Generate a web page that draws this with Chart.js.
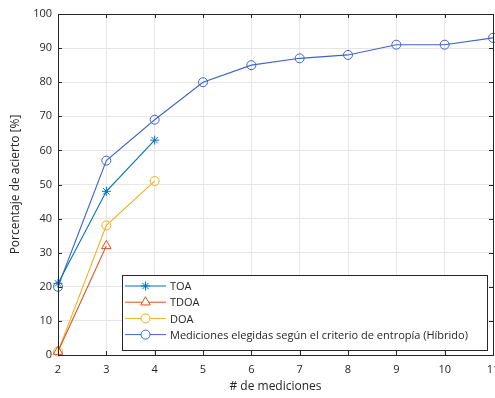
<!DOCTYPE html>
<html>
<head>
<meta charset="utf-8">
<script src="https://cdn.jsdelivr.net/npm/chart.js@4"></script>
<style>
  html, body { margin: 0; padding: 0; background: #fff; }
  #wrap { width: 495px; height: 398px; }
</style>
</head>
<body>
<div id="wrap"><canvas id="chart" width="495" height="398"></canvas></div>
<script>
// number of measurements on the x axis
const mediciones = [2, 3, 4, 5, 6, 7, 8, 9, 10, 11];
const toa = [21, 48, 63];
const tdoa = [1, 32];
const doa = [1, 38, 51];
const hibrido = [20, 57, 69, 80, 85, 87, 88, 91, 91, 93];
const yTicks = [0, 10, 20, 30, 40, 50, 60, 70, 80, 90, 100];

const textColor = '#262626';
const fontFamily = '"Open Sans", "Noto Sans", sans-serif';

function toPoints(values) {
    return values.map((v, i) => ({ x: mediciones[i], y: v }));
}

const series = [
    { label: 'TOA', data: toa, color: '#0072BD', style: 'star', radius: 4.5 },
    { label: 'TDOA', data: tdoa, color: '#D95319', style: 'triangle', radius: 5.5 },
    { label: 'DOA', data: doa, color: '#EDB120', style: 'circle', radius: 4.5 },
    { label: 'Mediciones elegidas según el criterio de entropía (Híbrido)', data: hibrido, color: '#3D66C4', style: 'circle', radius: 4.5 }
];

// box around the axes with inward ticks, plus the legend inside the plot
const framePlugin = {
    id: 'frame',
    afterDraw(chart) {
        const { ctx, chartArea: a, scales } = chart;
        ctx.save();
        ctx.strokeStyle = '#262626';
        ctx.lineWidth = 1;
        ctx.strokeRect(Math.round(a.left) + 0.5, Math.round(a.top) + 0.5,
            Math.round(a.right - a.left), Math.round(a.bottom - a.top));
        ctx.beginPath();
        mediciones.forEach(v => {
            const x = Math.round(scales.x.getPixelForValue(v)) + 0.5;
            ctx.moveTo(x, a.bottom); ctx.lineTo(x, a.bottom - 4);
            ctx.moveTo(x, a.top); ctx.lineTo(x, a.top + 4);
        });
        yTicks.forEach(v => {
            const y = Math.round(scales.y.getPixelForValue(v)) + 0.5;
            ctx.moveTo(a.left, y); ctx.lineTo(a.left + 4, y);
            ctx.moveTo(a.right, y); ctx.lineTo(a.right - 4, y);
        });
        ctx.stroke();

        // legend
        const box = { x: 122.5, y: 275.5, w: 365, h: 75 };
        ctx.fillStyle = '#fff';
        ctx.fillRect(box.x, box.y, box.w, box.h);
        ctx.strokeStyle = '#262626';
        ctx.strokeRect(box.x, box.y, box.w, box.h);
        ctx.font = '11px ' + fontFamily;
        ctx.textBaseline = 'middle';
        series.forEach((s, i) => {
            const y = 286 + i * 16.2;
            ctx.strokeStyle = s.color;
            ctx.lineWidth = 1;
            ctx.beginPath();
            ctx.moveTo(125, y); ctx.lineTo(166, y);
            ctx.stroke();
            ctx.fillStyle = '#fff';
            Chart.helpers.drawPoint(ctx, {
                pointStyle: s.style, radius: s.radius, borderWidth: 1, rotation: 0
            }, 145.5, y);
            ctx.fillStyle = textColor;
            ctx.fillText(s.label, 170, y + 1);
        });
        ctx.restore();
    }
};

new Chart(document.getElementById('chart'), {
    type: 'line',
    data: {
        datasets: series.map(s => ({
            label: s.label,
            data: toPoints(s.data),
            borderColor: s.color,
            backgroundColor: 'transparent',
            borderWidth: 1.1,
            pointStyle: s.style,
            pointRadius: s.radius,
            pointBorderWidth: 1,
            pointBorderColor: s.color,
            pointBackgroundColor: 'transparent',
            tension: 0,
            clip: false
        }))
    },
    options: {
        responsive: false,
        animation: false,
        layout: { autoPadding: false, padding: { top: 14, right: 2, left: 0, bottom: 0 } },
        plugins: { legend: { display: false }, tooltip: { enabled: false } },
        scales: {
            x: {
                type: 'linear',
                min: 2,
                max: 11,
                afterFit: s => { s.height = 43; s.paddingLeft = 0; s.paddingRight = 0; },
                afterBuildTicks: s => { s.ticks = mediciones.map(v => ({ value: v })); },
                grid: { color: '#e6e6e6', drawTicks: false },
                border: { display: false },
                ticks: { color: textColor, font: { family: fontFamily, size: 11 }, padding: 8 },
                title: {
                    display: true, text: '# de mediciones', color: textColor,
                    font: { family: fontFamily, size: 12 }, padding: { top: 3 }
                }
            },
            y: {
                min: 0,
                max: 100,
                afterFit: s => { s.width = 58; s.paddingTop = 0; s.paddingBottom = 0; },
                afterBuildTicks: s => { s.ticks = yTicks.map(v => ({ value: v })); },
                grid: { color: '#e6e6e6', drawTicks: false },
                border: { display: false },
                ticks: { color: textColor, font: { family: fontFamily, size: 11 }, padding: 6 },
                title: {
                    display: true, text: 'Porcentaje de acierto [%]', color: textColor,
                    font: { family: fontFamily, size: 12 }, padding: { top: 8, bottom: 4 }
                }
            }
        }
    },
    plugins: [framePlugin]
});
</script>
</body>
</html>
